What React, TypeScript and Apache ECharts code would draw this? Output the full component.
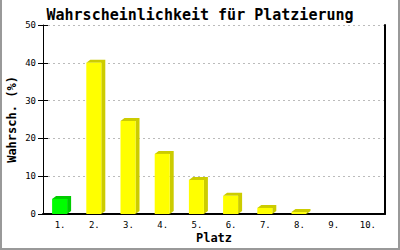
import React, { useEffect, useRef } from "react";
import * as echarts from "echarts";

const titleText = "Wahrscheinlichkeit für Platzierung";
const categories = ["1.", "2.", "3.", "4.", "5.", "6.", "7.", "8.", "9.", "10."];
const probabilities = [4.0, 40.0, 24.6, 15.9, 9.0, 4.8, 1.6, 0.5, 0, 0];
const highlightIndex = 0;
const yTicks = { min: 0, max: 50, interval: 10 };

const MONO = "'DejaVu Sans Mono', 'Liberation Mono', monospace";

export default function App() {
  const ref = useRef<HTMLDivElement>(null);
  useEffect(() => {
    if (!ref.current) return;
    const chart = echarts.init(ref.current, undefined, { renderer: "svg" });
    const data = probabilities.map((v, i) => [i, v]);
    const renderItem = (params: any, api: any) => {
      const v = api.value(1);
      const idx = api.value(0);
      if (!v) return null;
      const top = api.coord([idx, v]);
      const base = api.coord([idx, 0]);
      const cx = top[0];
      const x0 = cx - 8;
      const x1 = cx + 7;
      const y0 = top[1];
      const yb = base[1];
      const dx = 4;
      const dy = 3;
      const isHi = idx === highlightIndex;
      const front = isHi ? "#00ff00" : "#ffff00";
      const dark = isHi ? "#00cc00" : "#cccc00";
      return {
        type: "group",
        children: [
          {
            type: "polygon",
            shape: {
              points: [
                [x0, y0],
                [x0 + dx, y0 - dy],
                [x1 + dx, y0 - dy],
                [x1 + dx, yb - dy],
                [x1, yb],
                [x1, y0],
              ],
            },
            style: { fill: dark },
          },
          {
            type: "rect",
            shape: { x: x0, y: y0, width: x1 - x0, height: yb - y0 },
            style: { fill: front },
          },
        ],
      };
    };
    chart.setOption({
      animation: false,
      backgroundColor: "#ffffff",
      title: {
        text: titleText,
        left: "center",
        top: 2,
        textStyle: { fontFamily: MONO, fontWeight: "bold", fontSize: 15, color: "#000" },
      },
      grid: { left: 43, right: 15, top: 25, bottom: 36, outerBoundsMode: "none", containLabel: false },
      xAxis: {
        type: "category",
        data: categories,
        name: "Platz",
        nameLocation: "middle",
        nameGap: 18,
        nameMoveOverlap: false,
        nameTextStyle: { fontFamily: MONO, fontWeight: "bold", fontSize: 12, color: "#000" },
        axisLine: { lineStyle: { color: "#000", width: 2 } },
        axisTick: { show: false },
        axisLabel: { fontFamily: MONO, fontSize: 9, color: "#000", margin: 6 },
        splitLine: { show: false },
      },
      yAxis: [
        {
          type: "value",
          min: yTicks.min,
          max: yTicks.max,
          interval: yTicks.interval,
          name: "Wahrsch. (%)",
          nameLocation: "middle",
          nameGap: 25,
          nameMoveOverlap: false,
          nameTextStyle: { fontFamily: MONO, fontWeight: "bold", fontSize: 12, color: "#000" },
          axisLine: { show: true, lineStyle: { color: "#000", width: 1 } },
          axisTick: { show: true, length: 5, lineStyle: { color: "#000" } },
          axisLabel: { fontFamily: MONO, fontSize: 9, color: "#000", margin: 7 },
          splitLine: { show: true, lineStyle: { color: "#bbbbbb", type: [2, 3] } },
        },
        {
          type: "value",
          position: "left",
          min: yTicks.min,
          max: yTicks.max,
          interval: yTicks.interval,
          axisLine: { show: false },
          axisTick: { show: true, inside: true, length: 5, lineStyle: { color: "#000" } },
          axisLabel: { show: false },
          splitLine: { show: false },
        },
        {
          type: "value",
          position: "right",
          min: yTicks.min,
          max: yTicks.max,
          interval: yTicks.interval,
          axisLine: { show: true, lineStyle: { color: "#000", width: 2 } },
          axisTick: { show: false },
          axisLabel: { show: false },
          splitLine: { show: false },
        },
      ],
      series: [
        {
          type: "custom",
          yAxisIndex: 0,
          renderItem,
          data,
          encode: { x: 0, y: 1 },
          z: 5,
        },
      ],
      graphic: [
        {
          type: "polyline",
          shape: { points: [[1, 0], [1, 249], [399, 249], [399, 0]] },
          style: { stroke: "#999999", lineWidth: 2, fill: "none" },
          silent: true,
        },
      ],
    });
    return () => chart.dispose();
  }, []);
  return (
    <div
      ref={ref}
      style={{ position: "fixed", left: 0, top: 0, width: 400, height: 250, background: "#fff" }}
    />
  );
}
